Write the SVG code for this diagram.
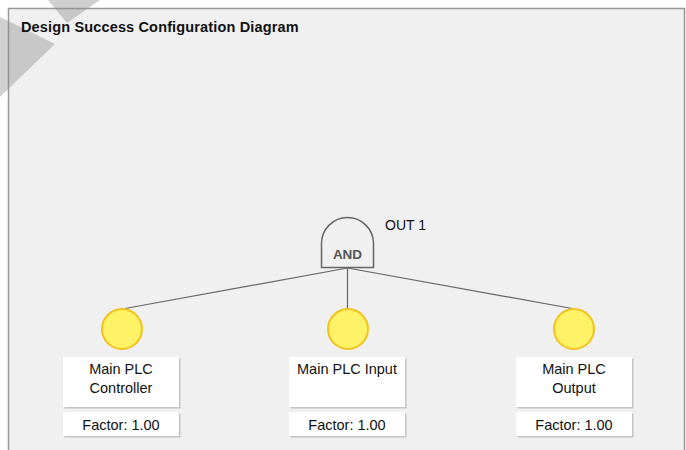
<svg xmlns="http://www.w3.org/2000/svg" width="686" height="450" viewBox="0 0 686 450">
  <defs>
    <style>
      .title { font-family: "Liberation Sans", Arial, sans-serif; font-size: 14.5px; font-weight: bold; fill: #111; letter-spacing: 0.15px; }
      .lbl { font-family: "Liberation Sans", Arial, sans-serif; font-size: 14.5px; fill: #111; text-anchor: middle; }
      .out { font-family: "Liberation Sans", Arial, sans-serif; font-size: 14px; fill: #111; }
      .gatetxt { font-family: "Liberation Sans", Arial, sans-serif; font-size: 13.5px; font-weight: bold; fill: #555; text-anchor: middle; }
      .gate { fill: #f0f0f0; stroke: #666; stroke-width: 1.5; }
      .conn { stroke: #666; stroke-width: 1.2; fill: none; }
      .event { fill: #fff266; stroke: #f2c21b; stroke-width: 2; }
      .box { fill: #ffffff; }
      .shadow { fill: #c4c4c4; }
      .mark { fill: #8a8a8a; fill-opacity: 0.4; }
    </style>
  </defs>

  <!-- page background -->
  <rect x="0" y="0" width="686" height="450" fill="#ffffff"/>

  <!-- diagram panel -->
  <rect x="8.5" y="8.5" width="676" height="450" fill="#f0f0f0" stroke="#999" stroke-width="1.5"/>

  <!-- corner decoration -->
  <polygon class="mark" points="48,0 100,0 67,23"/>
  <polygon class="mark" points="0,17 55,44 0,97"/>

  <text class="title" x="21" y="32">Design Success Configuration Diagram</text>

  <!-- connectors -->
  <g id="connectors">
    <line class="conn" x1="347.5" y1="268" x2="347.5" y2="310"/>
    <line class="conn" x1="347.5" y1="268" x2="125" y2="308.5"/>
    <line class="conn" x1="347.5" y1="268" x2="572" y2="308.5"/>
  </g>

  <!-- AND gate -->
  <g id="gate-out1">
    <path class="gate" d="M321.5,267.5 V243.5 A26,26 0 0 1 373.5,243.5 V267.5 Z"/>
    <text class="gatetxt" x="347.5" y="258.5">AND</text>
    <text class="out" x="385" y="229.5">OUT 1</text>
  </g>

  <!-- basic events -->
  <g id="event-controller">
    <circle class="event" cx="122" cy="329" r="20"/>
    <rect class="shadow" x="64.5" y="358.5" width="116" height="50"/>
    <rect class="box" x="63" y="357" width="116" height="50"/>
    <text class="lbl" x="121" y="374">Main PLC</text>
    <text class="lbl" x="121" y="393">Controller</text>
    <rect class="shadow" x="64.5" y="413.5" width="116" height="24"/>
    <rect class="box" x="63" y="412" width="116" height="24"/>
    <text class="lbl" x="121" y="429.5">Factor: 1.00</text>
  </g>

  <g id="event-input">
    <circle class="event" cx="348" cy="329" r="20"/>
    <rect class="shadow" x="290.5" y="358.5" width="116" height="50"/>
    <rect class="box" x="289" y="357" width="116" height="50"/>
    <text class="lbl" x="347" y="374">Main PLC Input</text>
    <rect class="shadow" x="290.5" y="413.5" width="116" height="24"/>
    <rect class="box" x="289" y="412" width="116" height="24"/>
    <text class="lbl" x="347" y="429.5">Factor: 1.00</text>
  </g>

  <g id="event-output">
    <circle class="event" cx="574" cy="329" r="20"/>
    <rect class="shadow" x="517.5" y="358.5" width="116" height="50"/>
    <rect class="box" x="516" y="357" width="116" height="50"/>
    <text class="lbl" x="574" y="374">Main PLC</text>
    <text class="lbl" x="574" y="393">Output</text>
    <rect class="shadow" x="517.5" y="413.5" width="116" height="24"/>
    <rect class="box" x="516" y="412" width="116" height="24"/>
    <text class="lbl" x="574" y="429.5">Factor: 1.00</text>
  </g>
</svg>
